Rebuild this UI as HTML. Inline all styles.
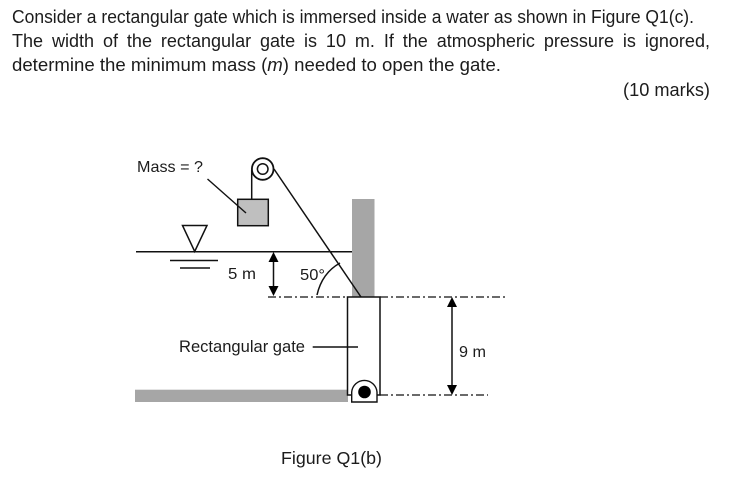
<!DOCTYPE html>
<html><head><meta charset="utf-8"><style>
html,body{margin:0;padding:0;background:#fff;width:737px;height:481px;overflow:hidden}
svg{display:block;filter:blur(0.35px)}
text{font-family:"Liberation Sans",sans-serif;fill:#1c1c1c}
.h{font-size:18.5px}
.d{font-size:16px}
</style></head><body>
<svg width="737" height="481" viewBox="0 0 737 481" xmlns="http://www.w3.org/2000/svg">
<text class="h" x="12" y="23" textLength="682" lengthAdjust="spacingAndGlyphs">Consider a rectangular gate which is immersed inside a water as shown in Figure Q1(c).</text>
<text class="h" x="12" y="47" textLength="698" lengthAdjust="spacingAndGlyphs" word-spacing="4">The width of the rectangular gate is 10 m. If the atmospheric pressure is ignored,</text>
<text class="h" x="12" y="71" textLength="489" lengthAdjust="spacingAndGlyphs">determine the minimum mass (<tspan font-style="italic">m</tspan>) needed to open the gate.</text>
<text class="h" x="623" y="96" textLength="87" lengthAdjust="spacingAndGlyphs">(10 marks)</text>

<rect x="352" y="199" width="22.5" height="98" fill="#a6a6a6"/>
<rect x="135" y="389.7" width="213" height="12.3" fill="#a6a6a6"/>
<rect x="347.5" y="297" width="32.5" height="98" fill="#fff" stroke="#111" stroke-width="1.5"/>

<g fill="none" stroke="#111" stroke-width="1.5">
<circle cx="262.7" cy="169" r="10.8" stroke-width="1.8"/>
<circle cx="262.7" cy="169" r="5.3"/>
<path d="M251.7 170V199"/>
<path d="M274 169L361 297"/>
<path d="M136 251.7H352"/>
<path d="M182.5 225.5H207L194.7 251.5Z"/>
<path d="M170 260.5H218M180 268H210"/>
<path d="M317 295Q322 273 340 263"/>
<path d="M312.7 347H358"/>
<path d="M268 297H347M380 297H505M380 395H488" stroke-width="1.2" stroke-dasharray="8 3 2 3"/>
<path d="M273.5 256V292M452 301V391"/>
</g>

<rect x="237.7" y="199.3" width="30.6" height="26.4" fill="#bfbfbf" stroke="#111" stroke-width="1.5"/>
<path d="M207.5 179L246 213" stroke="#111" stroke-width="1.4" fill="none"/>

<g fill="#000">
<path d="M273.5 252L278.5 262H268.5Z"/>
<path d="M273.5 296L278.5 286H268.5Z"/>
<path d="M452 297L457 307H447Z"/>
<path d="M452 395L457 385H447Z"/>
</g>

<path d="M351.7 402V392A12.7 12.7 0 0 1 377 392V402Z" fill="#fff" stroke="#111" stroke-width="1.4"/>
<circle cx="364.5" cy="392" r="6.3" fill="#000"/>

<text class="d" x="137" y="172" textLength="66" lengthAdjust="spacingAndGlyphs">Mass = ?</text>
<text class="d" x="228" y="279" textLength="28" lengthAdjust="spacingAndGlyphs">5 m</text>
<text class="d" x="300" y="280" textLength="25" lengthAdjust="spacingAndGlyphs">50°</text>
<text class="d" x="179" y="352" style="font-size:17px" textLength="126" lengthAdjust="spacingAndGlyphs">Rectangular gate</text>
<text class="d" x="459" y="357" textLength="27" lengthAdjust="spacingAndGlyphs">9 m</text>
<text class="h" x="281" y="464" style="font-size:17.5px" textLength="101" lengthAdjust="spacingAndGlyphs">Figure Q1(b)</text>
</svg>
</body></html>
